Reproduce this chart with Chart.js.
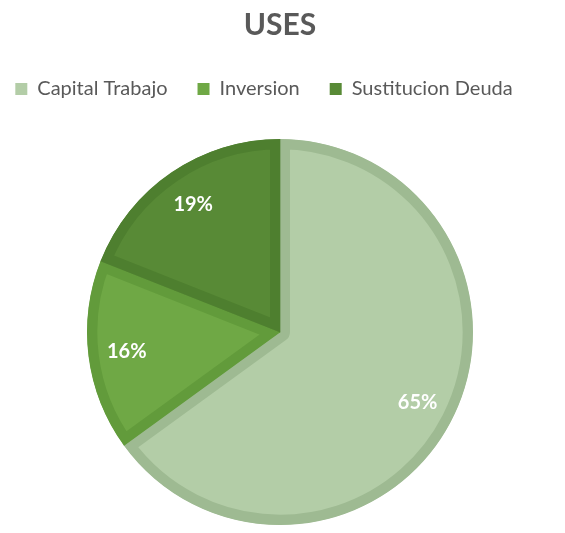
<!DOCTYPE html>
<html>
<head>
<meta charset="utf-8">
<script src="https://cdn.jsdelivr.net/npm/chart.js@4/dist/chart.umd.min.js"></script>
<style>
  html, body { margin: 0; padding: 0; background: #fff; }
  #wrap { width: 565px; height: 533px; }
</style>
</head>
<body>
<div id="wrap"><canvas id="usesChart"></canvas></div>
<script>
const categories = ['Capital Trabajo', 'Inversion', 'Sustitucion Deuda'];
const shares = [65, 16, 19];
const fillColors = ['#b3cda7', '#6fa845', '#588a36'];
const edgeColors = ['#9eba92', '#629b3b', '#4e7f2f'];

// simple label plugin: percentage in white at ~80% of the radius
const sliceLabels = {
  id: 'sliceLabels',
  afterDatasetsDraw(chart) {
    const ctx = chart.ctx;
    const meta = chart.getDatasetMeta(0);
    const total = shares.reduce((a, b) => a + b, 0);
    ctx.save();
    ctx.fillStyle = '#ffffff';
    ctx.font = 'bold 20px Lato, "Open Sans", sans-serif';
    ctx.textAlign = 'center';
    ctx.textBaseline = 'middle';
    meta.data.forEach((arc, i) => {
      const p = arc.getProps(['x', 'y', 'startAngle', 'endAngle', 'outerRadius']);
      const mid = (p.startAngle + p.endAngle) / 2;
      const r = p.outerRadius * 0.8;
      const pct = Math.round(shares[i] / total * 100) + '%';
      ctx.fillText(pct, p.x + Math.cos(mid) * r, p.y + Math.sin(mid) * r);
    });
    ctx.restore();
  }
};

// push the pie down a bit (extra room under the legend) and nudge the legend left
const legendGap = {
  id: 'legendGap',
  beforeInit(chart) {
    const origFit = chart.legend.fit;
    chart.legend.fit = function () {
      origFit.bind(chart.legend)();
      this.height += 30;
    };
  },
  afterUpdate(chart) {
    chart.legend.left -= 16;
    chart.legend.right -= 16;
    chart.legend.adjustHitBoxes();
  }
};

const ctx = document.getElementById('usesChart').getContext('2d');
const usesChart = new Chart(ctx, {
  type: 'pie',
  data: {
    labels: categories,
    datasets: [{
      data: shares,
      backgroundColor: fillColors,
      borderColor: edgeColors,
      borderWidth: 10,
      borderAlign: 'inner',
      hoverOffset: 0
    }]
  },
  options: {
    responsive: true,
    maintainAspectRatio: false,
    animation: false,
    layout: { padding: { top: 7, bottom: 8, left: 0, right: 5 } },
    plugins: {
      title: {
        display: true,
        text: 'USES',
        color: '#595959',
        font: { family: 'Lato, "Open Sans", sans-serif', size: 30, weight: 'bold' },
        padding: { top: 0, bottom: 6 }
      },
      legend: {
        position: 'top',
        labels: {
          color: '#595959',
          font: { family: 'Lato, "Open Sans", sans-serif', size: 20 },
          boxWidth: 12,
          boxHeight: 12,
          padding: 30,
          generateLabels(chart) {
            return categories.map((c, i) => ({
              text: c,
              fillStyle: fillColors[i],
              strokeStyle: fillColors[i],
              fontColor: '#595959',
              lineWidth: 0,
              index: i
            }));
          }
        }
      },
      tooltip: { enabled: false }
    }
  },
  plugins: [sliceLabels, legendGap]
});
</script>
</body>
</html>
